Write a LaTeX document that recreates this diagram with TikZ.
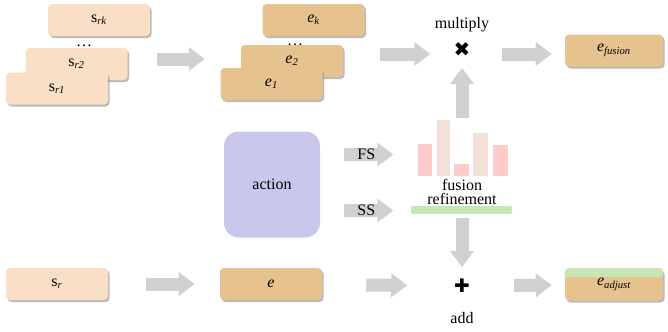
\documentclass[tikz,border=0pt]{standalone}
\usepackage{fontspec}
\setmainfont{Liberation Serif}
\newfontfamily\symfont{DejaVu Sans}
\usetikzlibrary{calc,shadows,arrows.meta}

\definecolor{sfill}{HTML}{F9DFC6}
\definecolor{efill}{HTML}{E6C38E}
\definecolor{actfill}{HTML}{C9C7EC}
\definecolor{flowgray}{HTML}{D0D0D0}
\definecolor{barpink}{HTML}{FFCCCC}
\definecolor{barpeach}{HTML}{F3E0D6}
\definecolor{refgreen}{HTML}{C8E6B4}

\tikzset{
  sbox/.style={rectangle, rounded corners=3pt, fill=sfill, minimum width=76.5pt, minimum height=24pt, inner sep=0pt,
    drop shadow={shadow xshift=1.2pt, shadow yshift=-1.5pt, fill=black!45, opacity=.6}},
  ebox/.style={sbox, fill=efill},
  flow/.style={line width=9.75pt, draw=flowgray, -{Triangle[length=12pt,width=17.25pt]}},
  sym/.style={font=\symfont\fontsize{15}{15}\selectfont, inner sep=0pt},
}

\begin{document}
\begin{tikzpicture}[x=0.75pt, y=-0.75pt, font=\fontsize{12}{14}\selectfont]
  \useasboundingbox (0,0) rectangle (668,332);

  % left stack
  \node[sbox] (srk) at (99,20) {s\textsubscript{\itshape rk}};
  \node[anchor=base] (sdots) at (84,46.5) {\dots};
  \node[sbox] (sr2) at (76.5,64) {s\textsubscript{\itshape r2}};
  \node[sbox] (sr1) at (57,88.5) {s\textsubscript{\itshape r1}};

  % embedding stack
  \node[anchor=base] (edots) at (295,45.5) {\dots};
  \node[ebox] (ek) at (313.5,20) {\textit{e}\textsubscript{\itshape k}};
  \node[ebox] (e2) at (292,61) {\textit{e}\textsubscript{\itshape 2}};
  \node[ebox] (e1) at (271.5,84) {\textit{e}\textsubscript{\itshape 1}};

  % multiply
  \node[sym] (mul) at (462,50) {✖};
  \node (multxt) at (462,25) {multiply};
  \node[ebox, minimum width=73.5pt] (efu) at (614,50.5) {\textit{e}\textsubscript{\itshape fusion}};

  \draw[flow] ([shift={(29,-5)}]sr2.east) -- ++(48,0);
  \draw[flow] ([shift={(37,-7)}]e2.east) -- ++(50,0);
  \draw[flow, shorten >=9.75pt] ([shift={(40,4)}]mul.center) -- (efu.west |- 0,54);

  % action
  \node[rectangle, rounded corners=11pt, fill=actfill, minimum width=72pt, minimum height=79.5pt] (act) at (272,184.5) {action};
  \draw[flow] ([shift={(24,-30)}]act.east) -- ++(49,0) node[pos=.45, text=black] (fs) {FS};
  \draw[flow] ([shift={(24,26)}]act.east) -- ++(49,0) node[pos=.45, text=black] (ss) {SS};

  % fusion refinement
  \fill[barpink]  (418,144) rectangle (432,176);
  \fill[barpeach] (437,120) rectangle (450,176);
  \fill[barpink]  (454,164) rectangle (469,176);
  \fill[barpeach] (473,133) rectangle (488,176);
  \fill[barpink]  (493,145) rectangle (508,176);
  \node[align=center, inner sep=0pt, font=\fontsize{12}{11}\selectfont] (fref) at (462,192) {fusion\\refinement};
  \fill[refgreen, rounded corners=1pt] (411,206) rectangle (512,214);
  \coordinate (frtop) at (462,118);
  \coordinate (frbot) at (462,218);
  \draw[flow] (frtop) -- (mul.south |- 0,68);

  % bottom row
  \node[sbox] (sr) at (57,284) {s\textsubscript{\itshape r}};
  \node[ebox] (e) at (271,284) {\textit{e}};
  \node[sym, font=\symfont\fontsize{14}{14}\selectfont] (add) at (462,286) {✚};
  \node (addtxt) at (462,318) {add};
  \node[ebox, minimum width=73.5pt] (eadj) at (614,284.5) {\textit{e}\textsubscript{\itshape adjust}};
  \fill[refgreen, rounded corners=3pt] (eadj.north west) -- (eadj.north east) -- ([yshift=-6.75pt]eadj.north east) [sharp corners] -- ([yshift=-6.75pt]eadj.north west) [rounded corners=3pt] -- cycle;

  \draw[flow, shorten <=28.5pt, shorten >=18.75pt] (sr) -- (e);
  \draw[flow, shorten <=33pt, shorten >=35pt] (e) -- (add);
  \draw[flow, shorten <=33pt, shorten >=9.75pt] (add) -- (eadj);
  \draw[flow] (frbot) -- (add.north |- 0,267);
\end{tikzpicture}
\end{document}
